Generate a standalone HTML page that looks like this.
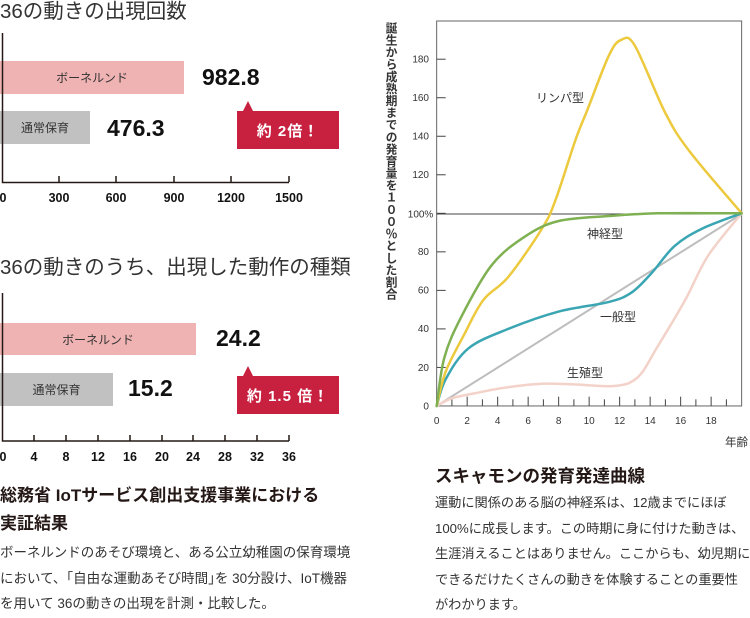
<!DOCTYPE html>
<html><head><meta charset="utf-8"><style>
body{margin:0;width:750px;height:607px;background:#fff;position:relative;overflow:hidden;font-family:"Liberation Sans","Noto Sans CJK JP",sans-serif;color:#231815}
.a{position:absolute;white-space:nowrap}
.t{font-size:20.5px;color:#333;line-height:1}
.bar{position:absolute;left:0;font-size:12px;color:#333;display:flex;align-items:center;justify-content:center}
.num{position:absolute;font-weight:bold;font-size:23px;color:#111;line-height:1}
.red{position:absolute;background:#c8203f;color:#fff;font-weight:bold;font-size:15px;display:flex;align-items:center;justify-content:center;letter-spacing:1px}
.red:before{content:"";position:absolute;left:6px;top:-10px;border-left:5px solid transparent;border-right:5px solid transparent;border-bottom:10px solid #c8203f}
.tk{position:absolute;font-weight:bold;font-size:12.5px;color:#111;transform:translateX(-50%)}
.body{color:#333}
</style></head><body>
<div class="a t" style="left:0;top:2px">36の動きの出現回数</div>
<div class="bar" style="top:61px;width:184px;height:33px;background:#efb3b3">ボーネルンド</div>
<div class="bar" style="top:111px;width:90px;height:33px;background:#c0c1c0">通常保育</div>
<div class="num" style="left:202px;top:66px">982.8</div>
<div class="num" style="left:107px;top:117px">476.3</div>
<div class="red" style="left:237px;top:111px;width:102px;height:38px">約 2倍！</div>

<div class="a t" style="left:0;top:258px">36の動きのうち、出現した動作の種類</div>
<div class="bar" style="top:323px;width:196px;height:32px;background:#efb3b3">ボーネルンド</div>
<div class="bar" style="top:373px;width:113px;height:33px;background:#c0c1c0">通常保育</div>
<div class="num" style="left:216px;top:327px">24.2</div>
<div class="num" style="left:128px;top:377px">15.2</div>
<div class="red" style="left:237px;top:376px;width:102px;height:38px">約 1.5 倍！</div>

<svg class="a" style="left:0;top:0" width="750" height="607">
<g stroke="#231815" stroke-width="1.5" fill="none">
<path d="M2.5 33V182.5H289"/>
<path d="M59 182V176M116 182V176M174 182V176M231 182V176M289 182V176"/>
<path d="M2.5 293V441H289"/>
<path d="M34 441V435M66 441V435M98 441V435M130 441V435M162 441V435M193 441V435M225 441V435M257 441V435M289 441V435"/>
</g>
<g id="ch" transform="translate(375,0) scale(0.3333)"></g>
</svg>
<div class="tk" style="left:3px;top:191px">0</div><div class="tk" style="left:59px;top:191px">300</div><div class="tk" style="left:116px;top:191px">600</div><div class="tk" style="left:174px;top:191px">900</div><div class="tk" style="left:231px;top:191px">1200</div><div class="tk" style="left:289px;top:191px">1500</div>
<div class="tk" style="left:3px;top:450px">0</div><div class="tk" style="left:34px;top:450px">4</div><div class="tk" style="left:66px;top:450px">8</div><div class="tk" style="left:98px;top:450px">12</div><div class="tk" style="left:130px;top:450px">16</div><div class="tk" style="left:162px;top:450px">20</div><div class="tk" style="left:193px;top:450px">24</div><div class="tk" style="left:225px;top:450px">28</div><div class="tk" style="left:257px;top:450px">32</div><div class="tk" style="left:289px;top:450px">36</div>

<div class="a" style="left:0;top:482px;font-weight:bold;font-size:17px;line-height:28px">総務省 IoTサービス創出支援事業における<br>実証結果</div>
<div class="a body" style="left:0;top:540px;line-height:25.5px;font-size:13.5px">ボーネルンドのあそび環境と、ある公立幼稚園の保育環境<br>において、｢自由な運動あそび時間｣を 30分設け、IoT機器<br>を用いて 36の動きの出現を計測・比較した。</div>
<div class="a" style="left:435px;top:463px;font-weight:bold;font-size:17.5px">スキャモンの発育発達曲線</div>
<div class="a body" style="left:435px;top:490px;line-height:25.5px;font-size:13.2px">運動に関係のある脳の神経系は、12歳までにほぼ<br>100%に成長します。この時期に身に付けた動きは、<br>生涯消えることはありません。ここからも、幼児期に<br>できるだけたくさんの動きを体験することの重要性<br>がわかります。</div>

<div class="a" style="left:383px;top:22px;writing-mode:vertical-rl;font-size:11.8px;font-weight:bold;color:#333;letter-spacing:0.3px">誕生から成熟期までの発育量を１００％とした割合</div>
<div class="a" style="left:725px;top:434px;font-size:11.5px;color:#333">年齢</div>
<div class="a" style="left:536px;top:89px;font-size:12px;color:#333">リンパ型</div>
<div class="a" style="left:587px;top:225px;font-size:12px;color:#333">神経型</div>
<div class="a" style="left:600px;top:308px;font-size:12px;color:#333">一般型</div>
<div class="a" style="left:567px;top:364px;font-size:12px;color:#333">生殖型</div>
<script>
const g=document.getElementById('ch');let s='';
const X=a=>185+a*45.75, Y=v=>1218-v*5.78;
s+='<rect x="185" y="63" width="915" height="1155" fill="none" stroke="#666" stroke-width="3"/>';
s+='<line x1="185" y1="642" x2="1100" y2="642" stroke="#444" stroke-width="3"/>';
let lab='';
for(let v=0;v<=180;v+=20){const y=Y(v);if(v)s+=`<line x1="185" y1="${y}" x2="212" y2="${y}" stroke="#444" stroke-width="3"/>`;
 if(v!=100) lab+=`<text x="162" y="${y+10}" text-anchor="end">${v}</text>`;}
lab+=`<text x="175" y="652" text-anchor="end">100%</text>`;
for(let a=0;a<=19;a++){const x=X(a);s+=`<line x1="${x}" y1="1218" x2="${x}" y2="${a%2?1198:1190}" stroke="#444" stroke-width="3"/>`;
 if(a%2==0&&a<=18) lab+=`<text x="${x}" y="1272" text-anchor="middle">${a}</text>`;}
s+=`<g font-size="30" fill="#333" font-family="Liberation Sans,sans-serif">${lab}</g>`;
function path(p,c){p=p.map(q=>[X(q[0]),Y(q[1])]);let d='M'+p[0];
 for(let i=0;i<p.length-1;i++){const p0=p[i-1]||p[i],p1=p[i],p2=p[i+1],p3=p[i+2]||p2;
 d+=`C${p1[0]+(p2[0]-p0[0])/6},${p1[1]+(p2[1]-p0[1])/6} ${p2[0]-(p3[0]-p1[0])/6},${p2[1]-(p3[1]-p1[1])/6} ${p2}`;}
 s+=`<path d="${d}" fill="none" stroke="${c}" stroke-width="7.5" stroke-linecap="round"/>`;}
s+=`<line x1="185" y1="1218" x2="1100" y2="642" stroke="#bdbdbd" stroke-width="6"/>`;
path([[0,0],[1,4],[2.5,6.6],[4.5,9.5],[6.9,11.5],[9,11.2],[11.7,10.4],[13.2,15],[14.5,31],[16.3,55],[17.8,78],[20,100]],'#f3d2c9');
path([[0,0],[0.6,14],[2.1,30],[4.7,40],[8,49],[11.3,54],[12.8,59],[14.1,69],[15.6,83],[17.4,92],[20,100]],'#3ba6b3');
path([[0,0],[0.6,18],[1.8,37],[3.06,55],[4.7,67],[6.9,92],[7.8,107],[9.1,138],[9.9,154],[11.3,182],[12.1,190],[13,187],[15,152],[16.6,132],[20,100]],'#ecc93d');
path([[0,0],[0.5,25],[1.6,46],[3.6,73],[5.8,88],[8,96],[11.3,98.6],[14.5,100],[20,100]],'#7fb153');
g.innerHTML=s;
</script>
</body></html>
